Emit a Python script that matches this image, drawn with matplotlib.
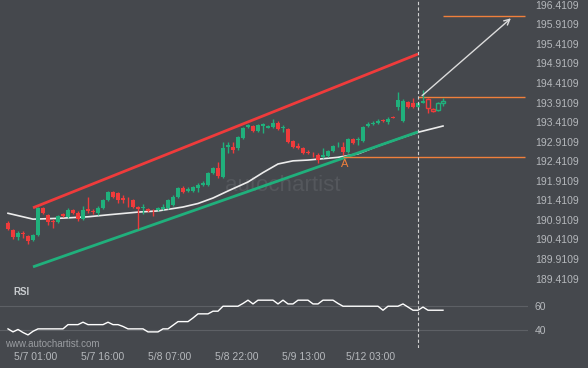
import numpy as np
import matplotlib.pyplot as plt

plt.rcParams['font.family'] = ['Liberation Sans', 'DejaVu Sans']

# hourly candles
opens = [190.83, 190.65, 190.47, 190.57, 190.50, 190.40, 190.53, 191.22, 191.04, 190.88,
         190.86, 191.05, 190.99, 191.17, 191.09, 190.93, 191.18, 191.13, 191.09, 191.22,
         191.42, 191.63, 191.60, 191.46, 191.38, 191.42, 191.23, 191.22, 191.19, 191.15,
         191.17, 191.19, 191.22, 191.29, 191.50, 191.73, 191.65, 191.65, 191.73, 191.80,
         191.80, 192.11, 192.24, 192.01, 192.77, 192.77, 192.75, 193.01, 193.29, 193.31,
         193.18, 193.32, 193.27, 193.29, 193.39, 193.26, 193.24, 192.93, 192.79, 192.75,
         192.65, 192.63, 192.57, 192.52, 192.55, 192.67, 192.79, 192.77, 192.65, 192.98,
         192.94, 192.93, 193.31, 193.36, 193.39, 193.47, 193.41, 193.54, 193.80, 193.44,
         193.92, 193.90, 193.80, 193.91, 194.00, 193.75, 193.72, 193.91]
closes = [190.68, 190.47, 190.58, 190.54, 190.37, 190.53, 191.22, 191.09, 190.86, 190.85,
          191.01, 191.02, 191.17, 191.09, 190.93, 191.17, 191.15, 191.10, 191.22, 191.42,
          191.63, 191.50, 191.42, 191.43, 191.36, 191.24, 191.20, 191.25, 191.14, 191.13,
          191.22, 191.24, 191.42, 191.50, 191.73, 191.63, 191.70, 191.75, 191.80, 191.86,
          192.11, 192.24, 192.03, 192.75, 192.83, 192.70, 193.03, 193.26, 193.34, 193.18,
          193.34, 193.35, 193.30, 193.39, 193.24, 193.29, 192.90, 192.77, 192.76, 192.62,
          192.62, 192.61, 192.44, 192.57, 192.67, 192.80, 192.81, 192.65, 192.98, 192.88,
          192.97, 193.29, 193.36, 193.40, 193.44, 193.44, 193.49, 193.52, 193.98, 193.95,
          193.80, 193.80, 193.90, 193.94, 193.77, 193.70, 193.90, 193.94]
highs = [190.88, 190.68, 190.63, 190.63, 190.53, 190.55, 191.24, 191.24, 191.06, 190.93,
         191.04, 191.09, 191.22, 191.19, 191.14, 191.27, 191.50, 191.19, 191.27, 191.45,
         191.65, 191.65, 191.63, 191.54, 191.50, 191.45, 191.27, 191.32, 191.22, 191.19,
         191.24, 191.32, 191.45, 191.54, 191.75, 191.78, 191.75, 191.78, 191.86, 191.91,
         192.14, 192.26, 192.39, 192.90, 192.90, 192.90, 193.06, 193.29, 193.36, 193.34,
         193.36, 193.39, 193.34, 193.49, 193.44, 193.34, 193.26, 192.95, 192.88, 192.77,
         192.70, 192.65, 192.62, 192.75, 192.70, 192.83, 192.90, 192.90, 193.01, 193.01,
         193.03, 193.31, 193.41, 193.44, 193.49, 193.49, 193.54, 193.57, 194.18, 194.00,
         193.95, 194.03, 193.92, 194.23, 194.03, 193.77, 193.92, 194.03]
lows = [190.65, 190.42, 190.40, 190.45, 190.30, 190.37, 190.50, 191.06, 190.78, 190.71,
        190.83, 190.99, 190.96, 191.06, 190.88, 190.91, 191.09, 191.06, 191.04, 191.19,
        191.40, 191.47, 191.35, 191.35, 191.24, 191.22, 190.68, 191.06, 191.11, 191.01,
        191.14, 191.17, 191.19, 191.27, 191.47, 191.60, 191.63, 191.63, 191.63, 191.78,
        191.78, 192.09, 191.98, 191.98, 192.62, 192.62, 192.70, 192.98, 193.26, 193.16,
        193.16, 193.13, 193.26, 193.26, 193.21, 193.16, 192.88, 192.75, 192.72, 192.60,
        192.60, 192.52, 192.37, 192.50, 192.52, 192.65, 192.77, 192.57, 192.62, 192.85,
        192.83, 192.90, 193.29, 193.34, 193.36, 193.41, 193.36, 193.52, 193.72, 193.41,
        193.77, 193.77, 193.77, 193.90, 193.64, 193.67, 193.70, 193.82]

rsi = [41, 38.5, 40.5, 38, 36, 39, 41, 41, 41, 41,
       41, 41, 44.5, 44.5, 44.5, 46.5, 44.5, 44.5, 44.5, 44.5,
       46.5, 44.5, 44.5, 43, 41, 41, 41, 41, 38.5, 38.5,
       38.5, 41, 41, 44, 47, 47, 47, 50, 53.4, 53.4,
       53.4, 55.6, 55.6, 59.7, 59.7, 59.7, 59.7, 62, 64.7, 61.6,
       64.7, 64.7, 64.7, 64.7, 61.6, 64.7, 61.6, 61.6, 64.7, 64.7,
       64.7, 61.6, 61.6, 64.7, 64.7, 64.7, 62, 59.7, 59.7, 59.7,
       59.7, 59.7, 59.7, 59.7, 59.7, 56.4, 59.7, 59.7, 59.7, 61.6,
       59, 56.4, 56.4, 59, 56.4, 56.4, 56.4, 56.4]

# moving average, read at some bars
ma_idx = [0, 5, 10, 16, 20, 26, 30, 35, 38, 41, 44, 48, 51, 54, 57, 60, 66, 70, 74, 78, 82, 87]
ma_vals = [191.08, 190.93, 190.95, 190.99, 191.04, 191.11, 191.14, 191.24, 191.33, 191.47, 191.65,
           191.88, 192.12, 192.34, 192.42, 192.44, 192.51, 192.60, 192.80, 192.98, 193.15, 193.31]

# channel lines (bar index, price)
res_x, res_y = [5, 82], [191.22, 195.15]
sup_x, sup_y = [5, 82], [189.71, 193.16]

signal_bar = 82
breakout_level = 194.04
target_level = 196.11
point_a_bar, point_a_level = 67, 192.52
arrow_end_bar = 101

time_labels = ['5/7 01:00', '5/7 16:00', '5/8 07:00', '5/8 22:00', '5/9 13:00', '5/12 03:00']
price_ticks = np.arange(189.4109, 196.42, 0.5)

BG = '#45484d'
GREEN = '#20b07c'
RED = '#ef3b3b'
ORANGE = '#f0803c'
TXT = '#b5b8bc'

fig = plt.figure(figsize=(5.88, 3.68), dpi=100, facecolor=BG)
ax = fig.add_axes([0, 1 - 288 / 368, 528 / 588, 288 / 368], facecolor=BG)
ax2 = fig.add_axes([0, 1 - 348 / 368, 528 / 588, 58 / 368], facecolor=BG, sharex=ax)

n = len(opens)
x = np.arange(n)
o = np.array(opens); c = np.array(closes)
up = c >= o
cols = np.where(up, GREEN, RED)
bottoms = np.minimum(o, c)
heights = np.maximum(np.abs(c - o), 0.015)

ax.text(55, 191.80, 'autochartist', fontsize=16, color='#54575c', ha='center', va='center', zorder=1)

ax.vlines(x, lows, highs, colors=cols, lw=1, zorder=3)
for i in range(n):
    if i >= 84:
        ax.bar(x[i], heights[i], 0.78, bottom=bottoms[i], facecolor=BG, edgecolor=cols[i], lw=1, zorder=4)
    else:
        ax.bar(x[i], heights[i], 0.78, bottom=bottoms[i], color=cols[i], lw=0, zorder=4)

ax.plot(ma_idx, ma_vals, color='#ececec', lw=1.2, zorder=2)
ax.plot(res_x, res_y, color=RED, lw=2, zorder=2, solid_capstyle='butt')
ax.plot(sup_x, sup_y, color=GREEN, lw=2, zorder=2, solid_capstyle='butt')

ax.hlines(breakout_level, signal_bar, 103.4, color=ORANGE, lw=1, zorder=2)
ax.hlines(point_a_level, point_a_bar, 103.4, color=ORANGE, lw=1, zorder=2)
ax.hlines(target_level, n - 1, 103.4, color=ORANGE, lw=1, zorder=2)
ax.text(point_a_bar + 0.4, point_a_level - 0.06, 'A', color=ORANGE, fontsize=8, ha='center', va='top')
ax.annotate('', xy=(arrow_end_bar, target_level), xytext=(signal_bar + 0.4, breakout_level),
            arrowprops=dict(arrowstyle='->', color='#dcdcdc', lw=1))

for a in (ax, ax2):
    a.axvline(signal_bar, color='#d0d0d0', lw=0.8, ls=(0, (3, 2)), zorder=5)
    for s in a.spines.values():
        s.set_visible(False)

ax.set_xlim(-1.6, 104)
ax.set_ylim(189.17, 196.531)
ax.yaxis.tick_right()
ax.set_yticks(price_ticks)
ax.set_yticklabels(['%.4f' % p for p in price_ticks])
ax.tick_params(axis='y', length=0, pad=5, labelsize=7.5, labelcolor=TXT)
ax.tick_params(axis='x', bottom=False, labelbottom=False)

ax2.plot(x, rsi, color='white', lw=1)
ax2.set_ylim(25.2, 73.1)
ax2.set_yticks([40, 60])
ax2.yaxis.tick_right()
ax2.grid(axis='y', color='#5d6065', lw=0.8)
ax2.tick_params(axis='y', length=0, pad=5, labelsize=7.5, labelcolor=TXT)
ax2.set_xticks(5.54 + 13.4 * np.arange(len(time_labels)))
ax2.set_xticklabels(time_labels)
ax2.tick_params(axis='x', length=0, pad=3, labelsize=7.5, labelcolor=TXT)
ax2.text(0.025, 0.96, 'RSI', transform=ax2.transAxes, fontsize=7, fontweight='bold', color='#c8cbce', va='center')

fig.text(5 / 588, 1 - 344 / 368, 'www.autochartist.com', fontsize=7, color='#9a9da1', va='center')

fig.savefig('out.png', dpi=100, facecolor=BG)
